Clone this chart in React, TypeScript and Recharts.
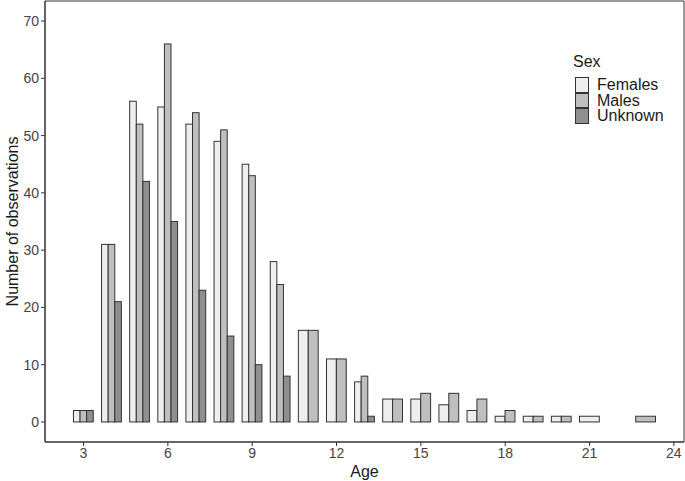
import React from 'react';
import { ComposedChart, Bar, XAxis, YAxis, ReferenceArea, Legend, Label } from 'recharts';

const ages = [3, 4, 5, 6, 7, 8, 9, 10, 11, 12, 13, 14, 15, 16, 17, 18, 19, 20, 21, 23];
const females = [2, 31, 56, 55, 52, 49, 45, 28, 16, 11, 7, 4, 4, 3, 2, 1, 1, 1, 1, null];
const males = [2, 31, 52, 66, 54, 51, 43, 24, 16, 11, 8, 4, 5, 5, 4, 2, 1, 1, null, 1];
const unknown = [2, 21, 42, 35, 23, 15, 10, 8, null, null, 1, null, null, null, null, null, null, null, null, null];

const xTicks = [3, 6, 9, 12, 15, 18, 21, 24];
const yTicks = [0, 10, 20, 30, 40, 50, 60, 70];

const FONT = '"Liberation Sans", Arial, Helvetica, sans-serif';
const OUTLINE = '#333333';
const TICK_COLOR = '#444444';

const series = [
  { key: 'females', name: 'Females', color: '#eeeeee' },
  { key: 'males', name: 'Males', color: '#bfbfbf' },
  { key: 'unknown', name: 'Unknown', color: '#8f8f8f' },
];

const data = ages.map((age, i) => ({
  age,
  females: females[i],
  males: males[i],
  unknown: unknown[i],
}));

// ggplot-style dodge: bars present at an age share the whole group width
const makeShape = (key: string, idx: number, color: string) => (props: any) => {
  const { x, y, width, height, payload } = props;
  if (!payload || payload[key] == null || width == null) return <g />;
  const present = series.map((s) => s.key).filter((k) => payload[k] != null);
  const n = present.length;
  const j = present.indexOf(key);
  const groupLeft = x - idx * width;
  const w = (width * 3) / n;
  return (
    <rect
      x={groupLeft + j * w}
      y={y}
      width={w}
      height={height}
      fill={color}
      stroke={OUTLINE}
      strokeWidth={1}
    />
  );
};

const renderLegend = () => (
  <div style={{ fontFamily: FONT, color: '#1a1a1a' }}>
    <div style={{ fontSize: 16, lineHeight: '18px', marginBottom: 6 }}>Sex</div>
    {series.map((s) => (
      <div key={s.key} style={{ display: 'flex', alignItems: 'center', height: 15.5, marginLeft: 2 }}>
        <div
          style={{
            width: 14,
            height: 15.5,
            boxSizing: 'border-box',
            border: `1px solid ${OUTLINE}`,
            background: s.color,
          }}
        />
        <span style={{ fontSize: 16, lineHeight: '15.5px', marginLeft: 8 }}>{s.name}</span>
      </div>
    ))}
  </div>
);

export default function App() {
  return (
    <div style={{ position: 'absolute', left: 0, top: 0, width: 685, height: 481, background: '#fff' }}>
      <ComposedChart
        width={685}
        height={481}
        data={data}
        margin={{ top: 1, right: 1, bottom: 0, left: 0 }}
        barGap={0}
      >
        <XAxis
          dataKey="age"
          type="number"
          domain={[1.63, 24.36]}
          ticks={xTicks}
          allowDataOverflow
          height={39}
          tickSize={4}
          stroke={OUTLINE}
          tickLine={{ stroke: '#333' }}
          tick={{ fontSize: 14, fill: TICK_COLOR, fontFamily: FONT }}
        >
          <Label
            value="Age"
            position="insideBottom"
            offset={4}
            style={{ fontSize: 16, fill: '#1a1a1a', fontFamily: FONT }}
          />
        </XAxis>
        <YAxis
          type="number"
          domain={[-3.5, 73.5]}
          ticks={yTicks}
          allowDataOverflow
          width={45}
          tickSize={4}
          stroke={OUTLINE}
          tick={{ fontSize: 14, fill: TICK_COLOR, fontFamily: FONT }}
        >
          <Label
            content={(p: any) => {
              const vb = p.viewBox || { x: 0, y: 0, height: 442 };
              const cx = 12;
              const cy = vb.y + vb.height / 2;
              return (
                <text
                  x={cx}
                  y={cy}
                  transform={`rotate(-90, ${cx}, ${cy})`}
                  textAnchor="middle"
                  dominantBaseline="central"
                  style={{ fontSize: 16, fill: '#1a1a1a', fontFamily: FONT }}
                >
                  Number of observations
                </text>
              );
            }}
          />
        </YAxis>
        <ReferenceArea
          x1={1.63}
          x2={24.36}
          y1={-3.5}
          y2={73.5}
          fill="none"
          stroke={OUTLINE}
          strokeWidth={1}
          ifOverflow="visible"
        />
        {series.map((s, i) => (
          <Bar
            key={s.key}
            dataKey={s.key}
            name={s.name}
            barSize={6.6}
            fill={s.color}
            isAnimationActive={false}
            shape={makeShape(s.key, i, s.color)}
          />
        ))}
        <Legend
          layout="vertical"
          align="center"
          verticalAlign="middle"
          content={renderLegend}
          wrapperStyle={{ position: 'absolute', left: 573, top: 53, width: 110 }}
        />
      </ComposedChart>
    </div>
  );
}
